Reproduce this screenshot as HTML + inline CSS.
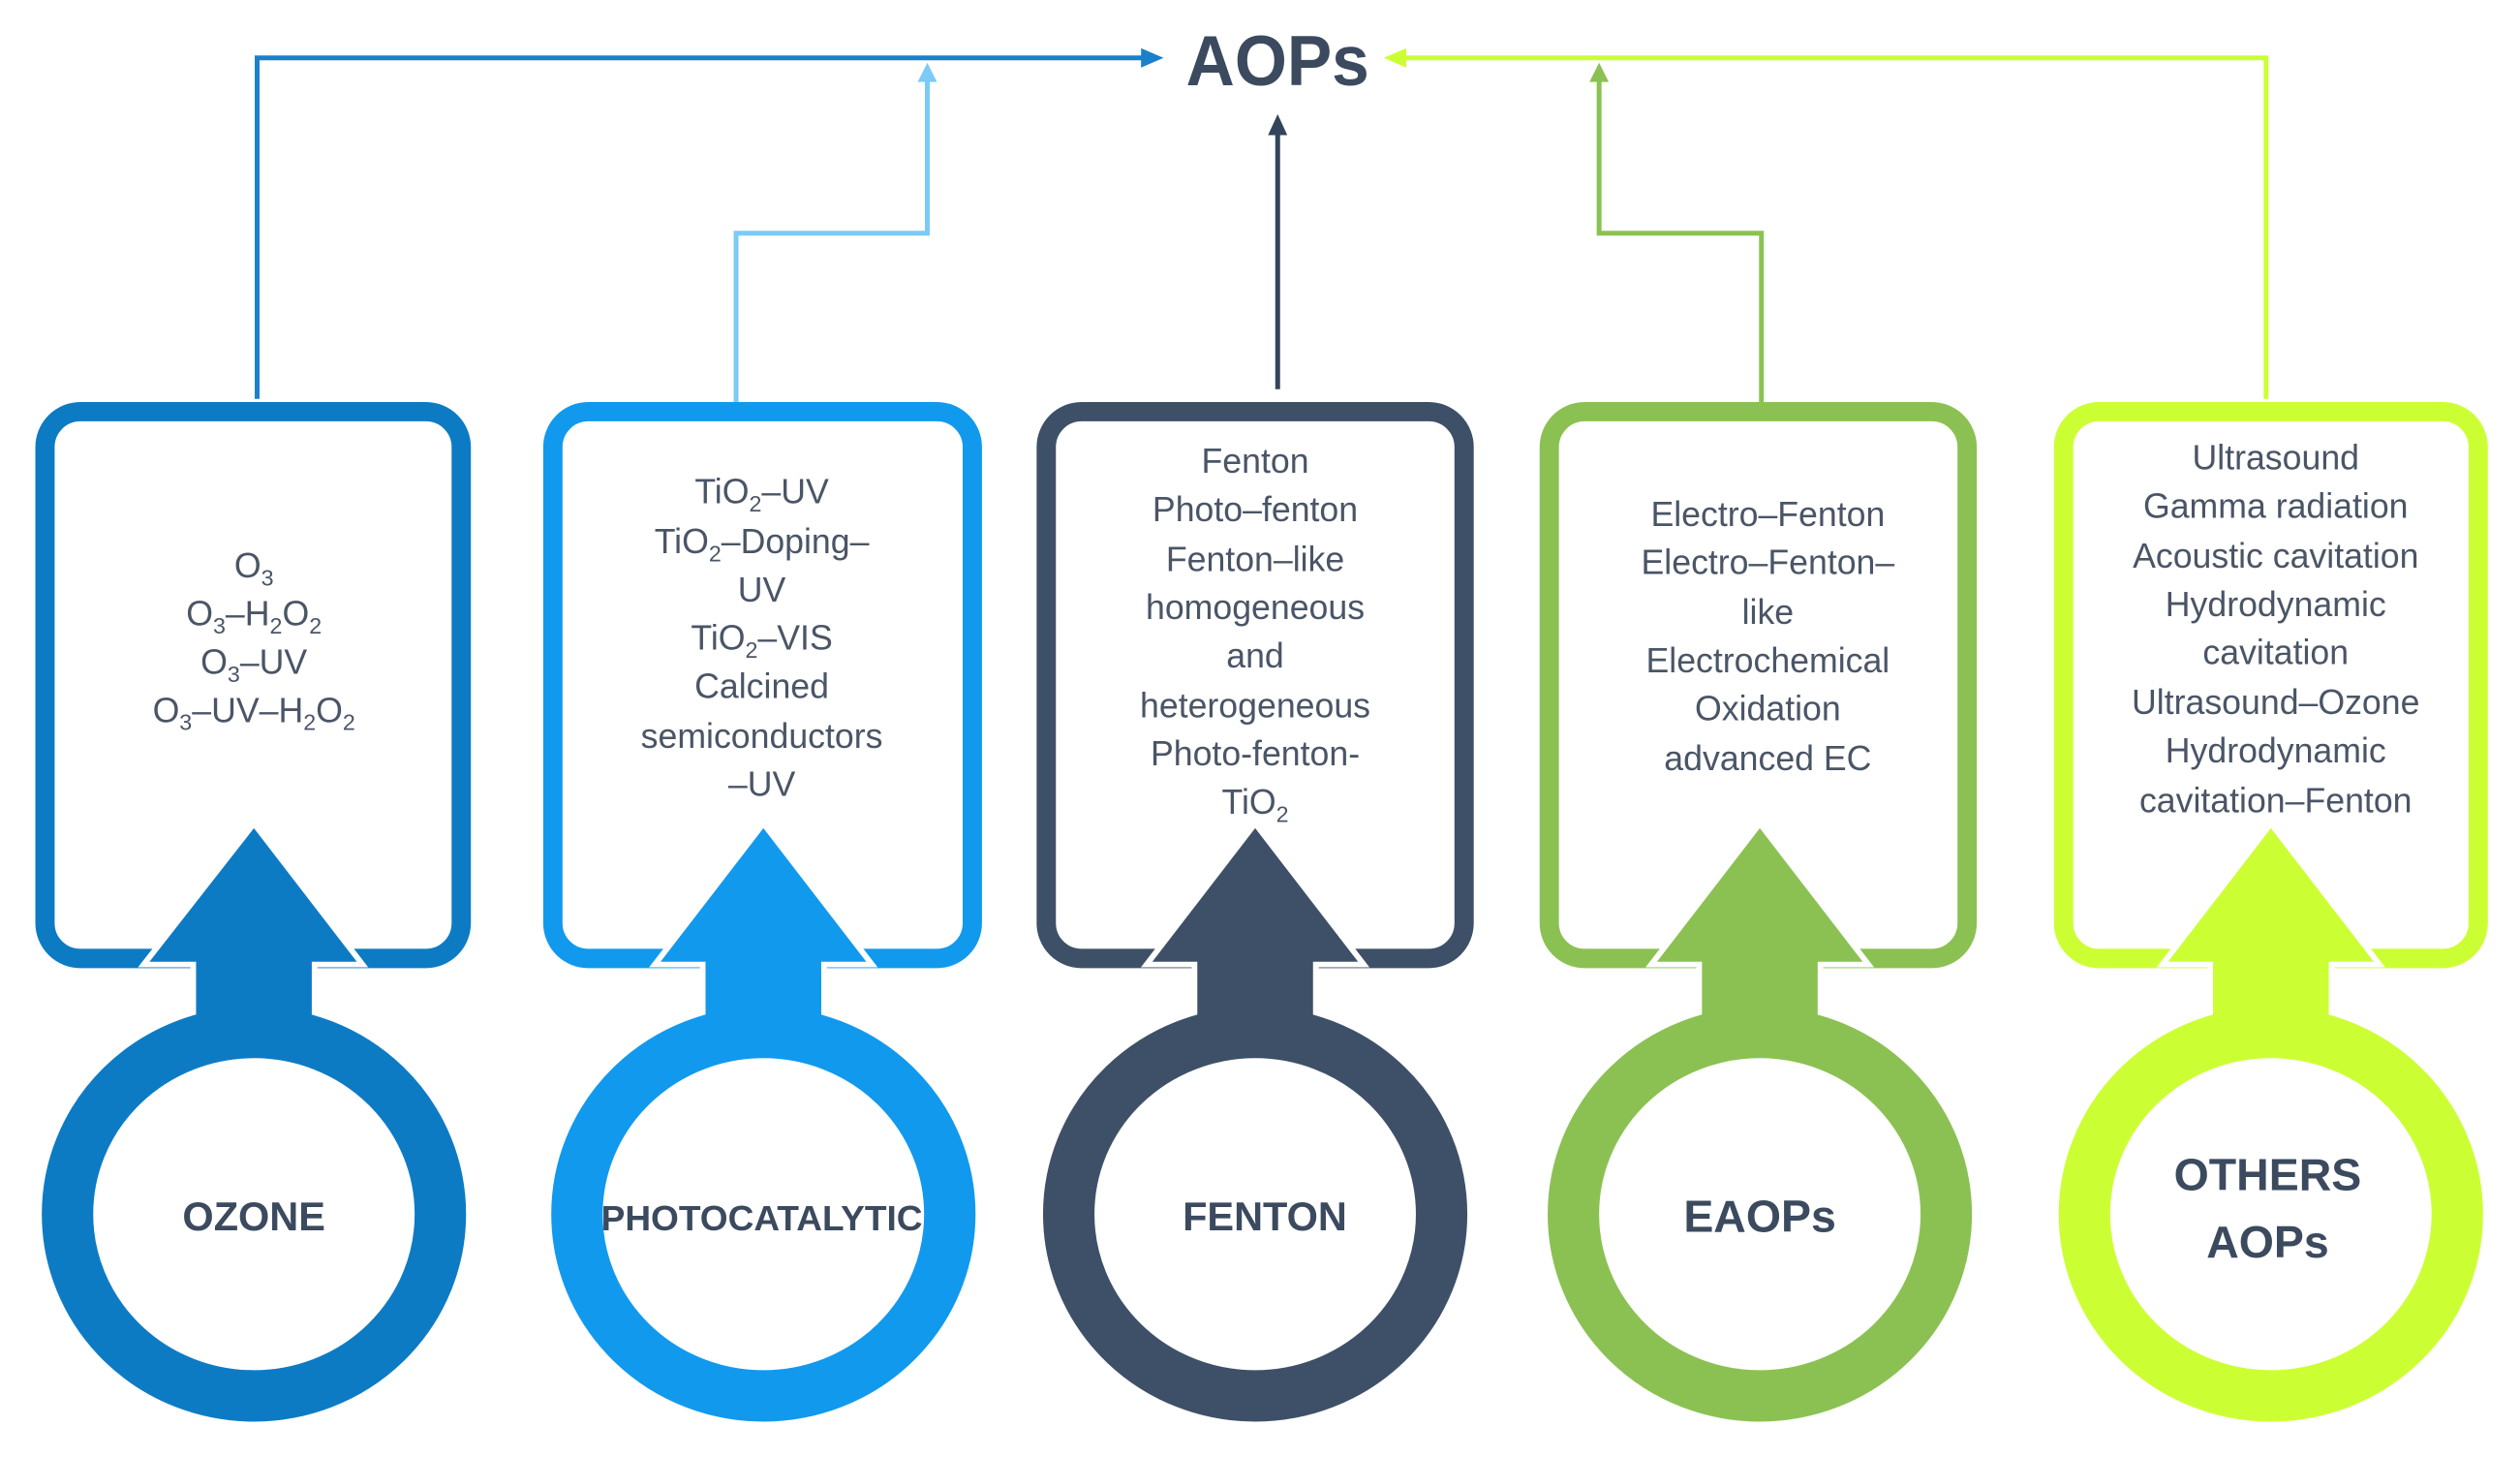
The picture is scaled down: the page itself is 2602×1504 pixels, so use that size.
<!DOCTYPE html>
<html><head><meta charset="utf-8"><style>
html,body{margin:0;padding:0;background:#fff;}
svg{display:block;}
.t{font-family:"Liberation Sans",sans-serif;font-size:21.5px;fill:#4a5566;text-anchor:middle;}
.b{font-family:"Liberation Sans",sans-serif;font-weight:bold;fill:#3b4a5e;text-anchor:middle;}
</style></head><body>
<svg width="2602" height="1504" viewBox="0 0 1568 906" preserveAspectRatio="none" xmlns="http://www.w3.org/2000/svg">
<!-- connectors -->
<polyline points="160,248 160,36 714,36" fill="none" stroke="#1a80cc" stroke-width="3"/>
<polygon points="724,36 710,30 710,42" fill="#1a80cc"/>
<polyline points="458,250 458,145 577,145 577,48" fill="none" stroke="#7ccaf6" stroke-width="3"/>
<polygon points="577,39 571,51 583,51" fill="#7ccaf6"/>
<line x1="795" y1="242" x2="795" y2="82" stroke="#33455a" stroke-width="3"/>
<polygon points="795,71 789,84 801,84" fill="#33455a"/>
<polyline points="1096,250 1096,145 995,145 995,48" fill="none" stroke="#8bc152" stroke-width="3"/>
<polygon points="995,39 989,51 1001,51" fill="#8bc152"/>
<polyline points="1410,248 1410,36 872,36" fill="none" stroke="#ccff33" stroke-width="3"/>
<polygon points="861,36 875,30 875,42" fill="#ccff33"/>
<text class="b" x="795" y="53" font-size="44" textLength="114" lengthAdjust="spacingAndGlyphs">AOPs</text>

<!-- columns -->
<g id="c1">
<rect x="28" y="256" width="259" height="340" rx="22" fill="none" stroke="#0d7bc4" stroke-width="12"/>
<polygon points="158,515 222,598 194,598 194,640 122,640 122,598 93,598" fill="#0d7bc4" stroke="#fff" stroke-width="7" stroke-linejoin="miter"/>
<polygon points="158,515 222,598 194,598 194,640 122,640 122,598 93,598" fill="#0d7bc4"/>
<ellipse cx="158" cy="755" rx="116" ry="113" fill="#fff" stroke="#0d7bc4" stroke-width="32"/>
</g>
<g>
<rect x="344" y="256" width="261" height="340" rx="22" fill="none" stroke="#1199ee" stroke-width="12"/>
<polygon points="475,515 539,598 511,598 511,640 439,640 439,598 411,598" fill="#1199ee" stroke="#fff" stroke-width="7"/>
<polygon points="475,515 539,598 511,598 511,640 439,640 439,598 411,598" fill="#1199ee"/>
<ellipse cx="475" cy="755" rx="116" ry="113" fill="#fff" stroke="#1199ee" stroke-width="32"/>
</g>
<g>
<rect x="651" y="256" width="260" height="340" rx="22" fill="none" stroke="#3e5068" stroke-width="12"/>
<polygon points="781,515 845,598 817,598 817,640 745,640 745,598 717,598" fill="#3e5068" stroke="#fff" stroke-width="7"/>
<polygon points="781,515 845,598 817,598 817,640 745,640 745,598 717,598" fill="#3e5068"/>
<ellipse cx="781" cy="755" rx="116" ry="113" fill="#fff" stroke="#3e5068" stroke-width="32"/>
</g>
<g>
<rect x="964" y="256" width="260" height="340" rx="22" fill="none" stroke="#8bc152" stroke-width="12"/>
<polygon points="1095,515 1159,598 1131,598 1131,640 1059,640 1059,598 1031,598" fill="#8bc152" stroke="#fff" stroke-width="7"/>
<polygon points="1095,515 1159,598 1131,598 1131,640 1059,640 1059,598 1031,598" fill="#8bc152"/>
<ellipse cx="1095" cy="755" rx="116" ry="113" fill="#fff" stroke="#8bc152" stroke-width="32"/>
</g>
<g>
<rect x="1284" y="256" width="258" height="340" rx="22" fill="none" stroke="#ccff33" stroke-width="12"/>
<polygon points="1413,515 1477,598 1449,598 1449,640 1377,640 1377,598 1349,598" fill="#ccff33" stroke="#fff" stroke-width="7"/>
<polygon points="1413,515 1477,598 1449,598 1449,640 1377,640 1377,598 1349,598" fill="#ccff33"/>
<ellipse cx="1413" cy="755" rx="116" ry="113" fill="#fff" stroke="#ccff33" stroke-width="32"/>
</g>

<!-- circle labels -->
<text class="b" x="158" y="765" font-size="25">OZONE</text>
<text class="b" x="474" y="765" font-size="22" textLength="200" lengthAdjust="spacingAndGlyphs">PHOTOCATALYTIC</text>
<text class="b" x="787" y="765" font-size="25">FENTON</text>
<text class="b" x="1095" y="766" font-size="28">EAOPs</text>
<text class="b" x="1411" y="740" font-size="28">OTHERS</text>
<text class="b" x="1411" y="782" font-size="28">AOPs</text>

<!-- box texts -->
<g class="t">
<text x="158" y="359">O<tspan dy="5" font-size="14">3</tspan></text>
<text x="158" y="389">O<tspan dy="5" font-size="14">3</tspan><tspan dy="-5">–H</tspan><tspan dy="5" font-size="14">2</tspan><tspan dy="-5">O</tspan><tspan dy="5" font-size="14">2</tspan></text>
<text x="158" y="419">O<tspan dy="5" font-size="14">3</tspan><tspan dy="-5">–UV</tspan></text>
<text x="158" y="449">O<tspan dy="5" font-size="14">3</tspan><tspan dy="-5">–UV–H</tspan><tspan dy="5" font-size="14">2</tspan><tspan dy="-5">O</tspan><tspan dy="5" font-size="14">2</tspan></text>

<text x="474" y="313">TiO<tspan dy="5" font-size="14">2</tspan><tspan dy="-5">–UV</tspan></text>
<text x="474" y="344">TiO<tspan dy="5" font-size="14">2</tspan><tspan dy="-5">–Doping–</tspan></text>
<text x="474" y="374">UV</text>
<text x="474" y="404">TiO<tspan dy="5" font-size="14">2</tspan><tspan dy="-5">–VIS</tspan></text>
<text x="474" y="434">Calcined</text>
<text x="474" y="465">semiconductors</text>
<text x="474" y="495">–UV</text>

<text x="781" y="294">Fenton</text>
<text x="781" y="324">Photo–fenton</text>
<text x="781" y="355">Fenton–like</text>
<text x="781" y="385">homogeneous</text>
<text x="781" y="415">and</text>
<text x="781" y="446">heterogeneous</text>
<text x="781" y="476">Photo-fenton-</text>
<text x="781" y="506">TiO<tspan dy="5" font-size="14">2</tspan></text>

<text x="1100" y="327">Electro–Fenton</text>
<text x="1100" y="357">Electro–Fenton–</text>
<text x="1100" y="388">like</text>
<text x="1100" y="418">Electrochemical</text>
<text x="1100" y="448">Oxidation</text>
<text x="1100" y="479">advanced EC</text>

<text x="1416" y="292">Ultrasound</text>
<text x="1416" y="322">Gamma radiation</text>
<text x="1416" y="353">Acoustic cavitation</text>
<text x="1416" y="383">Hydrodynamic</text>
<text x="1416" y="413">cavitation</text>
<text x="1416" y="444">Ultrasound–Ozone</text>
<text x="1416" y="474">Hydrodynamic</text>
<text x="1416" y="505">cavitation–Fenton</text>
</g>
</svg>
</body></html>
